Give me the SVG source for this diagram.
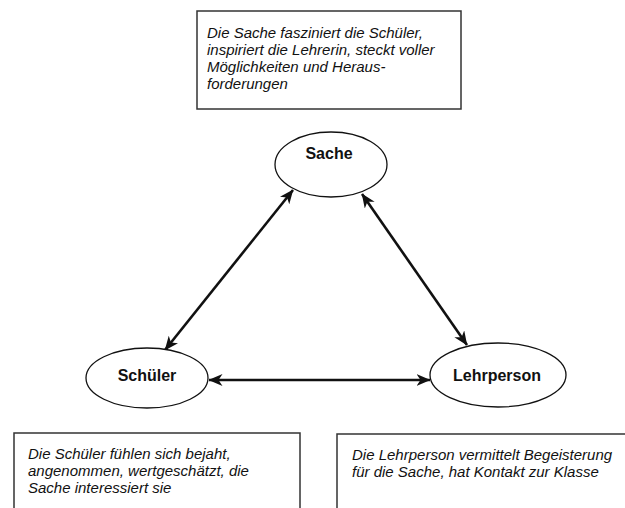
<svg xmlns="http://www.w3.org/2000/svg" width="625" height="508" viewBox="0 0 625 508">
  <style>
    .box { fill: #ffffff; stroke: #333333; stroke-width: 1.5; }
    .note { font-family: "Liberation Sans", Arial, sans-serif; font-style: italic; font-size: 15px; fill: #111111; }
    .node { fill: #ffffff; stroke: #111111; stroke-width: 1.3; }
    .label { font-family: "Liberation Sans", Arial, sans-serif; font-weight: bold; font-size: 16px; fill: #111111; text-anchor: middle; }
    .conn { stroke: #111111; stroke-width: 2.6; fill: none; marker-start: url(#arr); marker-end: url(#arr); }
  </style>
  <defs>
    <marker id="arr" markerUnits="userSpaceOnUse" viewBox="0 0 14 12" markerWidth="14" markerHeight="12" refX="13.5" refY="6" orient="auto-start-reverse">
      <path d="M0,0 L14,6 L0,12 L4,6 z" fill="#111111"/>
    </marker>
  </defs>
  <rect width="625" height="508" fill="#ffffff"/>

  <g id="note-sache">
    <rect class="box" x="197" y="11" width="264" height="98"/>
    <text class="note" x="207" y="38">Die Sache fasziniert die Schüler,</text>
    <text class="note" x="207" y="55">inspiriert die Lehrerin, steckt voller</text>
    <text class="note" x="207" y="72">Möglichkeiten und Heraus-</text>
    <text class="note" x="207" y="89">forderungen</text>
  </g>

  <g id="note-schueler">
    <rect class="box" x="14" y="433" width="286" height="90"/>
    <text class="note" x="28" y="459">Die Schüler fühlen sich bejaht,</text>
    <text class="note" x="28" y="476">angenommen, wertgeschätzt, die</text>
    <text class="note" x="28" y="493">Sache interessiert sie</text>
  </g>

  <g id="note-lehrperson">
    <rect class="box" x="337" y="434" width="300" height="90"/>
    <text class="note" x="352" y="460">Die Lehrperson vermittelt Begeisterung</text>
    <text class="note" x="352" y="477">für die Sache, hat Kontakt zur Klasse</text>
  </g>

  <g id="connectors">
    <line class="conn" x1="293" y1="190" x2="165" y2="350"/>
    <line class="conn" x1="362" y1="194" x2="467" y2="345"/>
    <line class="conn" x1="209" y1="380" x2="430" y2="380"/>
  </g>

  <g id="sache">
    <ellipse class="node" cx="331" cy="164.5" rx="56" ry="32.5"/>
    <text class="label" x="329" y="159">Sache</text>
  </g>

  <g id="schueler">
    <ellipse class="node" cx="147" cy="378" rx="61" ry="30"/>
    <text class="label" x="147" y="381">Schüler</text>
  </g>

  <g id="lehrperson">
    <ellipse class="node" cx="498" cy="375" rx="68" ry="32"/>
    <text class="label" x="497" y="381">Lehrperson</text>
  </g>
</svg>
